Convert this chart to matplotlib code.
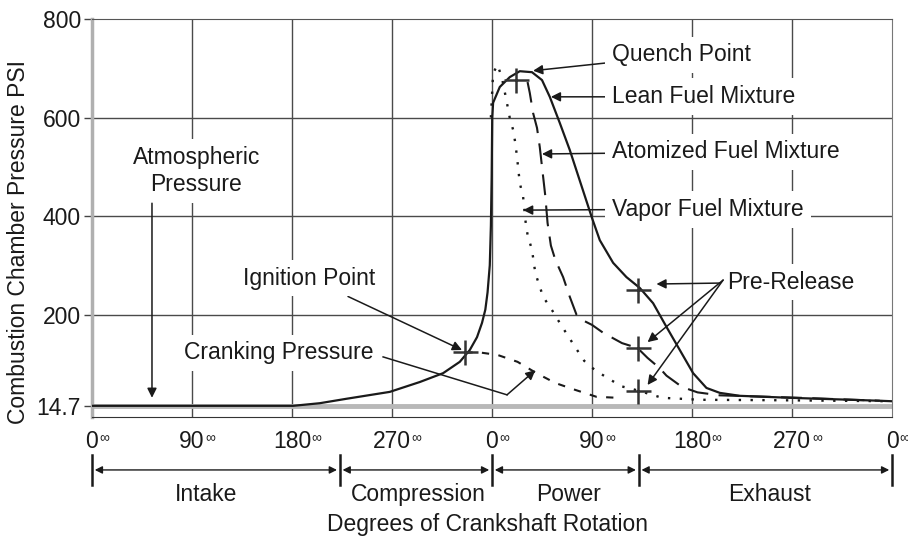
import matplotlib.pyplot as plt
import numpy as np

plt.rcParams['font.family'] = ['Liberation Sans', 'DejaVu Sans']

# --- data (degrees of crankshaft, psi) ---
lean_deg = [0, 181, 205, 229, 268, 295, 316, 331, 340, 346.5, 351, 354, 356, 358, 359,
            359.7, 360.2, 361, 367, 376, 385, 396, 405, 412, 421, 430, 440, 450, 457,
            469, 481, 493, 505, 517, 529, 541, 553, 565, 583, 628, 709, 720]
lean_psi = [14.7, 14.7, 20, 29, 43, 63, 81, 104, 128, 154, 183, 210, 245, 300, 380,
            480, 600, 630, 662, 682, 694, 692, 676, 642, 589, 534, 465, 396, 351,
            305, 276, 254, 223, 175, 128, 81, 51, 41, 35, 31, 25, 24]

atom_deg = [392, 394, 397, 400.5, 403, 405, 408, 410, 413, 417, 424, 430, 436, 442, 450,
            460, 477, 491, 500, 511, 517, 531, 545, 565, 637, 709]
atom_psi = [672, 650, 609, 579, 540, 500, 440, 386, 340, 311, 276, 236, 200, 188, 179,
            163, 142, 132, 112, 91, 76, 53, 42, 36, 31, 25]

vapor_deg = [359, 361, 365, 369, 373.5, 376, 379, 381, 382.5, 385, 388, 390, 392, 396,
             399, 406, 414, 421, 428, 436, 443, 450, 457, 467, 477, 491, 513, 547, 620, 720]
vapor_psi = [600, 690, 707, 680, 629, 599, 575, 548, 520, 467, 439, 392, 362, 331,
             284, 236, 209, 183, 158, 130, 106, 92, 81, 67, 54, 46, 31, 27, 26, 24]

crank_deg = [336, 346, 365, 383, 400, 417, 435, 454, 473]
crank_psi = [122, 124, 118, 104, 81, 61, 47, 33, 31]

ignition = (336, 124)
quench = (382, 676)
prerelease_deg = [491, 491, 491]
prerelease_psi = [250, 132, 45]

xticks = [0, 90, 180, 270, 360, 450, 540, 630, 720]
xticklabels = ['0', '90', '180', '270', '0', '90', '180', '270', '0']
yticks = [14.7, 200, 400, 600, 800]
yticklabels = ['14.7', '200', '400', '600', '800']

phase_edges = [0, 223, 360, 492, 720]
phase_names = ['Intake', 'Compression', 'Power', 'Exhaust']
phase_label_x = [103, 294, 429, 610]

fs = 16.5
ink = '#1a1a1a'

fig = plt.figure(figsize=(9.08, 5.38), dpi=100)
ax = fig.add_axes([0.1013, 0.2249, 0.8811, 0.7398])
ax.set_xlim(0, 720)
ax.set_ylim(-8, 800)

# grid
for x in xticks[1:-1]:
    ax.axvline(x, color='#4a4a4a', lw=1.0, zorder=0.5)
for y in yticks[1:-1]:
    ax.axhline(y, color='#4a4a4a', lw=1.0, zorder=0.5)
ax.axhline(14.7, color='#b8b8b8', lw=3.5, zorder=1)

# curves
ax.plot(lean_deg, lean_psi, color=ink, lw=1.6, zorder=4)
ax.plot(atom_deg, atom_psi, color=ink, lw=1.5, ls=(0, (10, 5)), zorder=4)
ax.plot(vapor_deg, vapor_psi, color=ink, lw=1.7, ls=(0, (1, 4)), zorder=4)
ax.plot(crank_deg, crank_psi, color=ink, lw=1.5, ls=(0, (3.5, 4.5)), zorder=4)

mk = dict(marker='+', ms=18, mew=1.8, color='#333333', ls='none', zorder=5)
ax.plot([ignition[0]], [ignition[1]], **mk)
ax.plot([quench[0]], [quench[1]], **mk)
ax.plot(prerelease_deg, prerelease_psi, **mk)

# axes styling
ax.spines['left'].set_color('#b0b0b0')
ax.spines['left'].set_linewidth(2.5)
ax.spines['bottom'].set_color('#333333')
ax.spines['top'].set_color('#555555')
ax.spines['right'].set_color('#777777')
ax.set_xticks(xticks)
ax.set_xticklabels(xticklabels)
ax.set_yticks(yticks)
ax.set_yticklabels(yticklabels)
ax.tick_params(axis='x', length=0, pad=9, labelsize=fs, labelcolor=ink)
ax.tick_params(axis='y', length=6, width=1, color='#444444', pad=2, labelsize=fs, labelcolor=ink)

trans = ax.get_xaxis_transform()
for t, lab in zip(xticks, xticklabels):
    ax.annotate('\u221e', xy=(t, 0), xycoords=trans,
                xytext=(len(lab) * 4.6 + 0.5, -15), textcoords='offset points',
                ha='left', va='center', fontsize=10, color=ink)

ax.set_ylabel('Combustion Chamber Pressure PSI', fontsize=fs, color=ink)
ax.yaxis.set_label_coords(-0.078, 0.44)
ax.set_xlabel('Degrees of Crankshaft Rotation', fontsize=fs, color=ink)
ax.xaxis.set_label_coords(0.495, -0.241)

# phase ranges below the axis
for x in phase_edges:
    ax.plot([x, x], [-0.095, -0.172], transform=trans, clip_on=False, color=ink, lw=1.8)
for x0, x1, name, lx in zip(phase_edges[:-1], phase_edges[1:], phase_names, phase_label_x):
    ax.annotate('', xy=(x1 - 2.5, -0.133), xytext=(x0 + 2.5, -0.133),
                xycoords=trans, textcoords=trans,
                arrowprops=dict(arrowstyle='<|-|>', lw=1.0, color=ink,
                                shrinkA=0, shrinkB=0, mutation_scale=11))
    ax.text(lx, -0.195, name, transform=trans, ha='center', va='center',
            fontsize=fs, color=ink)

# annotations
box = dict(boxstyle='square,pad=0.3', fc='white', ec='none')
arr = dict(arrowstyle='-|>', color=ink, lw=1.1, mutation_scale=14, shrinkA=0, shrinkB=0)

ax.text(94, 491, 'Atmospheric\nPressure', ha='center', va='center', fontsize=fs,
        color=ink, bbox=box, zorder=3, linespacing=1.25)
ax.annotate('', xy=(54, 31), xytext=(54, 426), arrowprops=arr, zorder=3)

ax.annotate('Quench Point', xy=(397, 695), xytext=(468, 727), ha='left', va='center',
            fontsize=fs, color=ink, bbox=box, arrowprops=arr, zorder=3)
ax.annotate('Lean Fuel Mixture', xy=(413, 642), xytext=(468, 642), ha='left', va='center',
            fontsize=fs, color=ink, bbox=box, arrowprops=arr, zorder=3)
ax.annotate('Atomized Fuel Mixture', xy=(405, 526), xytext=(468, 530), ha='left', va='center',
            fontsize=fs, color=ink, bbox=box, arrowprops=arr, zorder=3)
ax.annotate('Vapor Fuel Mixture', xy=(388, 412), xytext=(468, 414), ha='left', va='center',
            fontsize=fs, color=ink, bbox=box, arrowprops=arr, zorder=3)

ax.annotate('Pre-Release', xy=(508, 262), xytext=(572, 266), ha='left', va='center',
            fontsize=fs, color=ink, bbox=box, arrowprops=arr, zorder=3)
for py in [144, 57]:
    ax.annotate('', xy=(500, py), xytext=(568, 270), arrowprops=arr, zorder=3)

ax.annotate('Ignition Point', xy=(333, 128), xytext=(254.7, 274), ha='right', va='center',
            fontsize=fs, color=ink, bbox=box, arrowprops=arr, zorder=3)

ax.text(253, 122, 'Cranking Pressure', ha='right', va='center', fontsize=fs,
        color=ink, bbox=box, zorder=3)
ax.plot([262, 373.5], [114, 37], color=ink, lw=1.1, zorder=3)
ax.annotate('', xy=(399, 87), xytext=(373.5, 37), arrowprops=arr, zorder=3)

fig.savefig('out.png', dpi=100)
